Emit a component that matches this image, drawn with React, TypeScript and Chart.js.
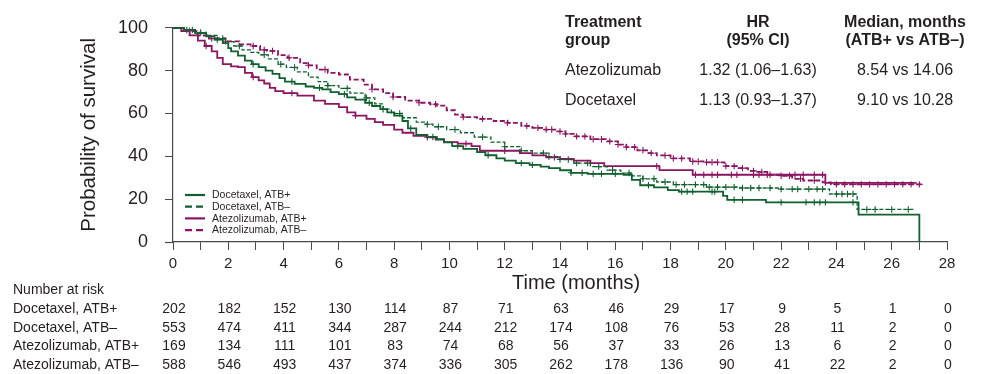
import React, { useEffect, useRef } from 'react';
import { Chart, registerables } from 'chart.js';

Chart.register(...registerables);

const FONT = '"Liberation Sans", Arial, Helvetica, sans-serif';
const GREEN = '#10602f';
const MAGENTA = '#8c1562';
const TEXT = '#231f20';
const AXIS = '#4a4a4a';

// Kaplan-Meier step points [month, survival %]
const docetaxelPlus = [
  [0, 100], [0.4, 99], [0.8, 97.5], [1.2, 96], [1.5, 94.5], [1.8, 92.8], [2.0, 90.5], [2.1, 89],
  [2.35, 87], [2.6, 84.7], [2.85, 83], [3.1, 81.6], [3.35, 80], [3.6, 78.5], [3.85, 76.5], [4.05, 74.9],
  [4.4, 73.8], [4.8, 72.6], [5.1, 72], [5.4, 71.3], [5.7, 70], [6.0, 69], [6.3, 67.5], [6.6, 66.5],
  [6.95, 65], [7.2, 63.5], [7.5, 62], [7.75, 60.5], [8.0, 59], [8.3, 56.5], [8.5, 53], [8.8, 50],
  [9.2, 49], [9.55, 48], [9.8, 46.5], [10.1, 44.8], [10.5, 43.5], [11.0, 42], [11.3, 40.5], [11.7, 39],
  [12.0, 38], [12.4, 36.8], [12.9, 36], [13.3, 35.2], [13.6, 34.5], [14.0, 33.5], [14.4, 32.3], [15.0, 31.8],
  [16.3, 31.4], [16.6, 29], [16.9, 26.5], [17.4, 25.5], [17.9, 24.2], [18.3, 23.5], [19.9, 21.5], [20.05, 19.7],
  [21.45, 18.5], [24.8, 12.8], [27.0, 0],
];
const docetaxelMinus = [
  [0, 100], [0.4, 99], [0.8, 97.8], [1.2, 96.5], [1.6, 95], [1.9, 93.5], [2.2, 91.5], [2.5, 89.7],
  [2.8, 88.5], [3.1, 87.4], [3.45, 85.5], [3.8, 83], [4.1, 81.5], [4.5, 79.4], [4.9, 77], [5.25, 74.9],
  [5.6, 73], [6.0, 71.7], [6.4, 69.5], [6.95, 67.3], [7.3, 64.5], [7.6, 62], [7.9, 60], [8.3, 58],
  [8.8, 56], [9.1, 55], [9.4, 53.8], [9.9, 52.5], [10.4, 51], [10.9, 49], [11.5, 46.6], [12.0, 44.5],
  [12.55, 42.6], [13.0, 41.5], [13.6, 39.9], [14.0, 38.5], [14.5, 36.8], [15.1, 35.2], [15.7, 33.6], [16.2, 32.2],
  [16.6, 30.9], [17.0, 29.5], [17.5, 28], [18.1, 26.8], [19.3, 25.6], [20.5, 25.2], [22.0, 24.7], [23.75, 22.4],
  [24.75, 15.2], [26.8, 15.2],
];
const atezolizumabPlus = [
  [0, 100], [0.3, 98.5], [0.6, 96.5], [0.9, 94], [1.15, 91.5], [1.4, 89], [1.6, 86], [1.8, 83],
  [2.1, 82], [2.35, 81.6], [2.6, 79], [2.86, 77], [3.1, 75.5], [3.3, 74], [3.5, 72], [3.7, 70.4],
  [4.0, 69.5], [4.5, 68.3], [5.1, 66], [5.5, 64.5], [6.0, 63], [6.3, 60.5], [6.6, 59], [7.0, 57.5],
  [7.3, 56], [7.6, 54.7], [8.0, 52.5], [8.3, 51], [8.7, 49.5], [9.2, 48.9], [9.5, 47.8], [9.8, 46.6],
  [10.3, 45.9], [10.8, 44.8], [11.1, 42.6], [12.55, 41.5], [13.0, 40.4], [13.5, 39.5], [14.0, 38.8], [14.5, 38],
  [15.1, 36.8], [15.6, 35.4], [17.6, 33.6], [18.8, 31.4], [23.6, 27.6], [26.9, 27.6],
];
const atezolizumabMinus = [
  [0, 100], [0.4, 98.5], [0.9, 96.4], [1.3, 95], [1.9, 93.7], [2.4, 92.3], [2.86, 91.5], [3.15, 89.7],
  [3.4, 89.2], [3.8, 87.2], [4.15, 86], [4.6, 83.5], [4.9, 82.5], [5.2, 80.5], [5.6, 79], [6.0, 78.2],
  [6.4, 75.8], [6.9, 73.5], [7.2, 71.3], [7.6, 69.5], [7.96, 67.7], [8.4, 66], [8.9, 65], [9.3, 64.3],
  [9.55, 63.7], [9.9, 61.5], [10.2, 59.5], [10.5, 58.3], [11.0, 57.5], [11.6, 56.5], [12.1, 55.6], [12.6, 54.2],
  [13.0, 53.3], [13.4, 52.5], [13.9, 51.6], [14.2, 50.5], [14.5, 49.3], [15.1, 48], [15.7, 47], [16.1, 45.5],
  [16.4, 44.3], [16.8, 42.8], [17.2, 41.5], [17.5, 40.4], [18.0, 39], [18.7, 37.6], [19.3, 37.2], [19.95, 35.4],
  [20.4, 34.5], [20.8, 33.2], [21.1, 32.7], [21.5, 31.4], [22.0, 30.9], [22.4, 29.5], [22.8, 28.7], [23.5, 27.8],
  [23.8, 26.9], [27.1, 26.7],
];

// censoring times (months)
const docetaxelPlusCensor = [0.7, 1.6, 2.9, 4.3, 5.3, 6.2, 7.1, 8.6, 9.4, 10.3, 11.4, 12.6, 13.0, 14.4, 14.8, 15.2, 15.5, 16.0, 17.2, 18.4, 18.6, 18.8, 19.5, 19.6, 20.3, 20.6, 22.0, 22.9, 23.2, 23.4, 23.6, 24.6];
const docetaxelMinusCensor = [0.5, 1.0, 1.8, 2.4, 3.3, 3.9, 4.4, 5.6, 6.3, 7.0, 7.6, 8.2, 9.2, 9.6, 10.2, 11.2, 12.0, 12.6, 13.4, 13.6, 14.0, 14.3, 14.6, 15.0, 15.4, 15.9, 16.5, 17.0, 17.4, 17.8, 18.2, 18.5, 18.9, 19.2, 19.4, 19.7, 20.0, 20.3, 20.6, 20.9, 21.2, 21.6, 22.0, 22.4, 22.6, 23.0, 23.3, 23.5, 24.0, 24.2, 24.4, 24.6, 25.1, 25.4, 26.0, 26.6];
const atezolizumabPlusCensor = [1.2, 2.9, 4.3, 6.6, 9.2, 10.6, 12.0, 13.8, 17.5, 18.9, 19.2, 19.5, 19.7, 20.2, 20.4, 21.0, 21.2, 21.5, 22.5, 22.8, 23.2, 23.5];
const atezolizumabMinusCensor = [0.6, 1.4, 1.9, 2.9, 3.3, 3.6, 4.2, 4.9, 5.5, 7.2, 7.96, 8.9, 9.5, 10.5, 11.2, 12.1, 12.8, 13.2, 13.5, 13.7, 14.0, 14.2, 14.6, 14.9, 15.2, 15.5, 15.8, 16.1, 16.4, 16.7, 17.0, 17.3, 17.8, 18.1, 18.4, 18.8, 19.0, 19.3, 19.5, 19.7, 20.0, 20.3, 20.6, 21.0, 21.3, 21.6, 22.0, 22.3, 22.7, 23.2, 23.6, 24.0, 24.3, 24.6, 24.9, 25.2, 25.5, 25.8, 26.1, 26.4, 26.7, 27.0];

// number at risk
const riskTimes = [0, 2, 4, 6, 8, 10, 12, 14, 16, 18, 20, 22, 24, 26, 28];
const riskDocetaxelPlus = [202, 182, 152, 130, 114, 87, 71, 63, 46, 29, 17, 9, 5, 1, 0];
const riskDocetaxelMinus = [553, 474, 411, 344, 287, 244, 212, 174, 108, 76, 53, 28, 11, 2, 0];
const riskAtezolizumabPlus = [169, 134, 111, 101, 83, 74, 68, 56, 37, 33, 26, 13, 6, 2, 0];
const riskAtezolizumabMinus = [588, 546, 493, 437, 374, 336, 305, 262, 178, 136, 90, 41, 22, 2, 0];

const seriesLabels = ['Docetaxel, ATB+', 'Docetaxel, ATB\u2013', 'Atezolizumab, ATB+', 'Atezolizumab, ATB\u2013'];

// HR table
const tableHeader1 = ['Treatment', 'HR', 'Median, months'];
const tableHeader2 = ['group', '(95% CI)', '(ATB+ vs ATB\u2013)'];
const tableGroups = ['Atezolizumab', 'Docetaxel'];
const tableHR = ['1.32 (1.06\u20131.63)', '1.13 (0.93\u20131.37)'];
const tableMedian = ['8.54 vs 14.06', '9.10 vs 10.28'];

const yTitle = 'Probability of survival';
const xTitle = 'Time (months)';

function toPoints(pairs: number[][]) {
  return pairs.map(([x, y]) => ({ x, y }));
}
function survivalAt(pairs: number[][], t: number) {
  let v = pairs[0][1];
  for (const [x, y] of pairs) if (x <= t) v = y;
  return v;
}
function censorPoints(times: number[], pairs: number[][]) {
  return times.map((t) => ({ x: t, y: survivalAt(pairs, t) }));
}

const styles = [
  { color: GREEN, dash: [] as number[], width: 1.8 },
  { color: GREEN, dash: [4, 2], width: 1.3 },
  { color: MAGENTA, dash: [] as number[], width: 1.8 },
  { color: MAGENTA, dash: [5, 2.5], width: 1.8 },
];

const overlay = {
  id: 'overlay',
  afterDraw(chart: any) {
    const { ctx, chartArea, scales } = chart;
    const xs = scales.x;
    ctx.save();
    ctx.fillStyle = TEXT;

    // extend x-axis line to left like reference
    ctx.strokeStyle = AXIS;
    ctx.lineWidth = 1.2;
    ctx.beginPath();
    ctx.moveTo(chartArea.left - 8, chartArea.bottom + 0.5);
    ctx.lineTo(chartArea.left, chartArea.bottom + 0.5);
    ctx.stroke();

    // y title
    ctx.save();
    ctx.font = `20.5px ${FONT}`;
    ctx.translate(95, (chartArea.top + chartArea.bottom) / 2);
    ctx.rotate(-Math.PI / 2);
    ctx.textAlign = 'center';
    ctx.textBaseline = 'alphabetic';
    ctx.fillText(yTitle, 0, 0);
    ctx.restore();

    // x title
    ctx.font = `20px ${FONT}`;
    ctx.textAlign = 'left';
    ctx.textBaseline = 'alphabetic';
    ctx.fillText(xTitle, 512, 289);

    // number at risk
    ctx.font = `14px ${FONT}`;
    ctx.fillText('Number at risk', 13, 294);
    const rows = [riskDocetaxelPlus, riskDocetaxelMinus, riskAtezolizumabPlus, riskAtezolizumabMinus];
    rows.forEach((row, r) => {
      const y = 313 + r * 18.5;
      ctx.textAlign = 'left';
      ctx.fillText(seriesLabels[r], 13, y);
      ctx.textAlign = 'center';
      row.forEach((n, i) => {
        ctx.fillText(String(n), xs.getPixelForValue(riskTimes[i]) + 1, y);
      });
    });

    // HR table
    ctx.font = `bold 16px ${FONT}`;
    const colX = [565, 758, 905];
    const aligns = ['left', 'center', 'center'];
    tableHeader1.forEach((t, i) => { ctx.textAlign = aligns[i]; ctx.fillText(t, colX[i], 27); });
    tableHeader2.forEach((t, i) => { ctx.textAlign = aligns[i]; ctx.fillText(t, colX[i], 45); });
    ctx.font = `16px ${FONT}`;
    tableGroups.forEach((g, r) => {
      const y = 75 + r * 30;
      ctx.textAlign = 'left'; ctx.fillText(g, colX[0], y);
      ctx.textAlign = 'center'; ctx.fillText(tableHR[r], colX[1], y);
      ctx.fillText(tableMedian[r], colX[2], y);
    });

    // legend
    ctx.font = `10.5px ${FONT}`;
    ctx.textAlign = 'left';
    ctx.textBaseline = 'middle';
    seriesLabels.forEach((lab, i) => {
      const y = 195 + i * 11.7;
      ctx.strokeStyle = styles[i].color;
      ctx.lineWidth = 2.2;
      ctx.setLineDash(styles[i].dash.length ? [7, 4] : []);
      ctx.beginPath();
      ctx.moveTo(185, y);
      ctx.lineTo(205, y);
      ctx.stroke();
      ctx.setLineDash([]);
      ctx.fillStyle = TEXT;
      ctx.fillText(lab, 212, y + 0.5);
    });
    ctx.restore();
  },
};

export default function App() {
  const ref = useRef<HTMLCanvasElement>(null);
  useEffect(() => {
    if (!ref.current) return;
    const curves = [docetaxelPlus, docetaxelMinus, atezolizumabPlus, atezolizumabMinus];
    const censors = [docetaxelPlusCensor, docetaxelMinusCensor, atezolizumabPlusCensor, atezolizumabMinusCensor];
    const lineSets = curves.map((c, i) => ({
      label: seriesLabels[i],
      data: toPoints(c),
      borderColor: styles[i].color,
      borderWidth: styles[i].width,
      borderDash: styles[i].dash,
      stepped: 'before' as const,
      pointRadius: 0,
      fill: false,
      clip: 6,
    }));
    const censorSets = censors.map((c, i) => ({
      label: seriesLabels[i] + ' censored',
      data: censorPoints(c, curves[i]),
      showLine: false,
      borderColor: styles[i].color,
      backgroundColor: styles[i].color,
      pointStyle: 'cross' as const,
      pointRadius: 3.2,
      pointBorderWidth: 1.1,
      clip: 6,
    }));
    const chart = new Chart(ref.current, {
      type: 'line',
      data: { datasets: [...lineSets, ...censorSets] as any },
      options: {
        animation: false,
        responsive: false,
        devicePixelRatio: 1,
        layout: { padding: { left: 113, top: 19, right: 34, bottom: 102 } },
        plugins: { legend: { display: false }, tooltip: { enabled: false } },
        scales: {
          x: {
            type: 'linear',
            min: 0,
            max: 28,
            afterFit: (s: any) => { s.height = 30; },
            ticks: {
              stepSize: 1,
              autoSkip: false,
              maxRotation: 0,
              padding: 5,
              color: TEXT,
              font: { family: FONT, size: 15 },
              callback: (v: any) => (Number(v) % 2 === 0 ? String(v) : ''),
            },
            grid: { drawOnChartArea: false, drawTicks: true, tickLength: 8, color: AXIS, lineWidth: 1 },
            border: { display: true, color: AXIS, width: 1.2 },
          },
          y: {
            min: 0,
            max: 100,
            afterFit: (s: any) => { s.width = 60; },
            ticks: {
              stepSize: 20,
              padding: 17,
              color: TEXT,
              font: { family: FONT, size: 18 },
            },
            grid: { drawOnChartArea: false, drawTicks: true, tickLength: 8, color: AXIS, lineWidth: 1 },
            border: { display: true, color: AXIS, width: 1.2 },
          },
        },
      },
      plugins: [overlay],
    });
    return () => chart.destroy();
  }, []);
  return (
    <div style={{ position: 'absolute', left: 0, top: 0, width: 981, height: 374, background: '#fff' }}>
      <canvas ref={ref} width={981} height={374} style={{ display: 'block' }} />
    </div>
  );
}
